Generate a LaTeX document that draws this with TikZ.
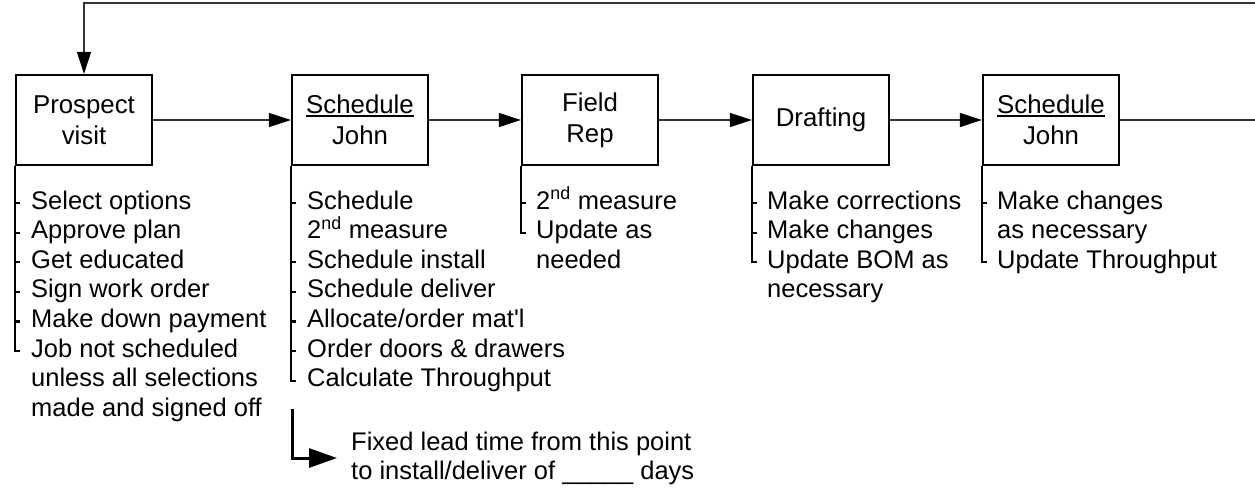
\documentclass[tikz,border=0pt]{standalone}
\usepackage{fontspec}
\setmainfont{Liberation Sans}
\usetikzlibrary{arrows.meta}
% underline drawn as a rule of fixed depth and thickness
\newcommand\ulined[1]{\setbox0\hbox{#1}\rlap{\rule[-3pt]{\wd0}{1.5pt}}\box0}

\begin{document}
\begin{tikzpicture}[x=1pt,y=-1pt,
  stage/.style={draw, line width=2.2pt, minimum width=136pt, minimum height=90pt,
    inner sep=0pt, align=center, font=\fontsize{25.8}{31}\selectfont},
  listline/.style={anchor=base west, inner sep=0pt, font=\fontsize{25.5}{30}\selectfont},
  flow/.style={line width=1.3pt, draw=black!80, -{Triangle[length=22pt,width=14pt,color=black]}},
  bracket/.style={line width=2.2pt, line join=miter},
  leadarrow/.style={line width=3pt, line join=miter, -{Triangle[length=28pt,width=19pt]}}]

\useasboundingbox (0,0) rectangle (1255,488);
\clip (0,0) rectangle (1255,488);

% process steps
\node[stage] (visit)   at (84,120)   {Prospect\\visit};
\node[stage] (sched)   at (360,120)  {\ulined{Schedule}\\John};
\node[stage] (field)   at (590,120)  {Field\\Rep};
\node[stage] (draft)   at (821,120)  {Drafting};
\node[stage] (resched) at (1051,120) {\ulined{Schedule}\\John};

% flow between steps
\draw[flow] (visit) -- (sched);
\draw[flow] (sched) -- (field);
\draw[flow] (field) -- (draft);
\draw[flow] (draft) -- (resched);

% return loop back to the first step
\coordinate (loopcorner) at (1268,3);
\draw[flow] (resched.east) -- (resched.east -| loopcorner) -- (loopcorner)
  -- (loopcorner -| visit.north) -- (visit.north);

% task lists under each step
\foreach \t [count=\n] in {Select options,Approve plan,Get educated,Sign work order,
    Make down payment,Job not scheduled,unless all selections,made and signed off}
  \node[listline] (v\n) at (31,{209+29.6*(\n-1)}) {\t};
\foreach \n in {1,...,5}
  \draw[bracket] (visit.south west |- v\n.base) ++(0,-6) -- ++(5,0);
\draw[bracket] (visit.south west) -- ([yshift=6pt]visit.south west |- v6.base) -- ++(5,0);

\foreach \t [count=\n] in {Schedule,2\textsuperscript{nd} measure,Schedule install,
    Schedule deliver,Allocate/order mat\textquotesingle l,Order doors \& drawers,Calculate Throughput}
  \node[listline] (s\n) at (307,{209+29.6*(\n-1)}) {\t};
\foreach \n in {1,3,4,5,6}
  \draw[bracket] (sched.south west |- s\n.base) ++(0,-6) -- ++(5,0);
\draw[bracket] (sched.south west) -- ([yshift=6pt]sched.south west |- s7.base) -- ++(5,0);

\foreach \t [count=\n] in {2\textsuperscript{nd} measure,Update as,needed}
  \node[listline] (f\n) at (536,{209+29.6*(\n-1)}) {\t};
\draw[bracket] (field.south west |- f1.base) ++(0,-6) -- ++(5,0);
\draw[bracket] (field.south west) -- ([yshift=6pt]field.south west |- f2.base) -- ++(5,0);

\foreach \t [count=\n] in {Make corrections,Make changes,Update BOM as,necessary}
  \node[listline] (d\n) at (767,{209+29.6*(\n-1)}) {\t};
\foreach \n in {1,2}
  \draw[bracket] (draft.south west |- d\n.base) ++(0,-6) -- ++(5,0);
\draw[bracket] (draft.south west) -- ([yshift=6pt]draft.south west |- d3.base) -- ++(5,0);

\foreach \t [count=\n] in {Make changes,as necessary,Update Throughput}
  \node[listline] (r\n) at (997,{209+29.6*(\n-1)}) {\t};
\draw[bracket] (resched.south west |- r1.base) ++(0,-6) -- ++(5,0);
\draw[bracket] (resched.south west) -- ([yshift=6pt]resched.south west |- r3.base) -- ++(5,0);

% fixed lead time note
\node[listline] (lead1) at (351,450) {Fixed lead time from this point};
\node[listline] (lead2) at (351,479) {to install/deliver of \_\_\_\_\_ days};
\coordinate (leadtop) at (292,409);
\coordinate (leadbend) at (292,458);
\draw[leadarrow] (leadtop) -- (leadbend) -- ([xshift=-14pt]lead1.west |- leadbend);

\end{tikzpicture}
\end{document}
